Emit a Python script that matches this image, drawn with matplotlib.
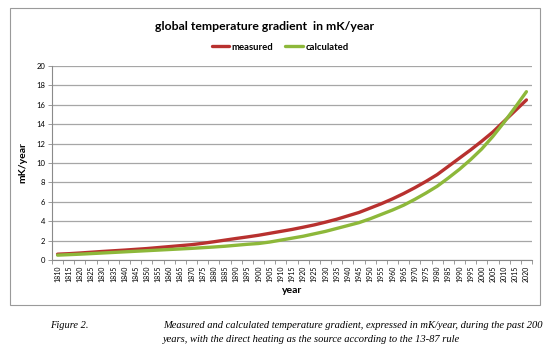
import matplotlib
matplotlib.use("Agg")
import matplotlib.pyplot as plt
from matplotlib.patches import Rectangle
import numpy as np

years = list(range(1810, 2021, 5))
measured = [0.60, 0.65, 0.72, 0.80, 0.88, 0.95, 1.02, 1.10, 1.18, 1.28,
            1.38, 1.48, 1.58, 1.72, 1.88, 2.05, 2.22, 2.38, 2.55, 2.75,
            2.95, 3.15, 3.38, 3.62, 3.90, 4.20, 4.55, 4.90, 5.35, 5.80,
            6.30, 6.85, 7.45, 8.10, 8.80, 9.65, 10.50, 11.35, 12.25, 13.20,
            14.30, 15.40, 16.50]
calculated = [0.50, 0.55, 0.60, 0.66, 0.72, 0.78, 0.84, 0.90, 0.96, 1.02,
              1.08, 1.14, 1.20, 1.27, 1.34, 1.42, 1.52, 1.62, 1.70, 1.85,
              2.05, 2.25, 2.45, 2.70, 2.95, 3.25, 3.55, 3.85, 4.25, 4.70,
              5.15, 5.65, 6.25, 6.90, 7.60, 8.45, 9.35, 10.35, 11.45, 12.75,
              14.20, 15.75, 17.35]
y_ticks = list(range(0, 21, 2))

W, H = 550, 356
fig = plt.figure(figsize=(W / 100, H / 100), dpi=100)
fig.patch.set_facecolor("white")

# chart border
fig.add_artist(Rectangle((10 / W, 1 - 305 / H), 530 / W, 297 / H,
                         transform=fig.transFigure, fill=False,
                         edgecolor="#9a9a9a", linewidth=0.8))

ax = fig.add_axes([52 / W, 1 - 260 / H, 480 / W, 194 / H])
x = np.arange(len(years))
red = "#B8312F"
green = "#8DB83A"
ax.plot(x, measured, color=red, linewidth=2.4, label="measured", solid_capstyle="round")
ax.plot(x, calculated, color=green, linewidth=2.4, label="calculated", solid_capstyle="round")

ax.set_xlim(-0.5, len(years) - 0.5)
ax.set_ylim(0, 20)
ax.set_yticks(y_ticks)
ax.set_yticklabels([str(v) for v in y_ticks], fontsize=5.5, family="Lato")
ax.yaxis.grid(True, color="#a6a6a6", linewidth=0.9)
ax.set_axisbelow(True)

ax.set_xticks(x)
ax.set_xticklabels([str(y) for y in years], rotation=90, fontsize=5, family="Lato")
ax.set_xticks(np.arange(-0.5, len(years), 1), minor=True)
ax.tick_params(axis="x", which="major", length=0, pad=4)
ax.tick_params(axis="x", which="minor", length=3, color="#8a8a8a", width=0.6)
ax.tick_params(axis="y", length=3, color="#8a8a8a", width=0.6, pad=2)

for s in ["top", "right"]:
    ax.spines[s].set_visible(False)
for s in ["left", "bottom"]:
    ax.spines[s].set_color("#8a8a8a")
    ax.spines[s].set_linewidth(0.8)

ax.set_ylabel("mK/year", fontsize=7.5, fontweight="bold", family="Lato", labelpad=6)
ax.set_xlabel("year", fontsize=7.5, fontweight="bold", family="Lato", labelpad=3)

fig.text(265 / W, 1 - 27 / H, "global temperature gradient  in mK/year", ha="center", va="center",
         fontsize=8.8, fontweight="bold", family="Lato")

leg = ax.legend(loc="center", bbox_to_anchor=(280 / W, 1 - 47 / H), bbox_transform=fig.transFigure,
                ncol=2, frameon=False, prop={"family": "Lato", "size": 6.8, "weight": "bold"},
                handlelength=1.9, handletextpad=0.2, columnspacing=1.3)

fig.text(50 / W, 1 - 326 / H, "Figure 2.", fontsize=7.5, style="italic", family="Liberation Serif",
         va="center", ha="left")
fig.text(163 / W, 1 - 326 / H,
         "Measured and calculated temperature gradient, expressed in mK/year, during the past 200",
         fontsize=7.6, style="italic", family="Liberation Serif", va="center", ha="left")
fig.text(163 / W, 1 - 340 / H,
         "years, with the direct heating as the source according to the 13-87 rule",
         fontsize=7.6, style="italic", family="Liberation Serif", va="center", ha="left")

fig.savefig("out.png", dpi=100)
